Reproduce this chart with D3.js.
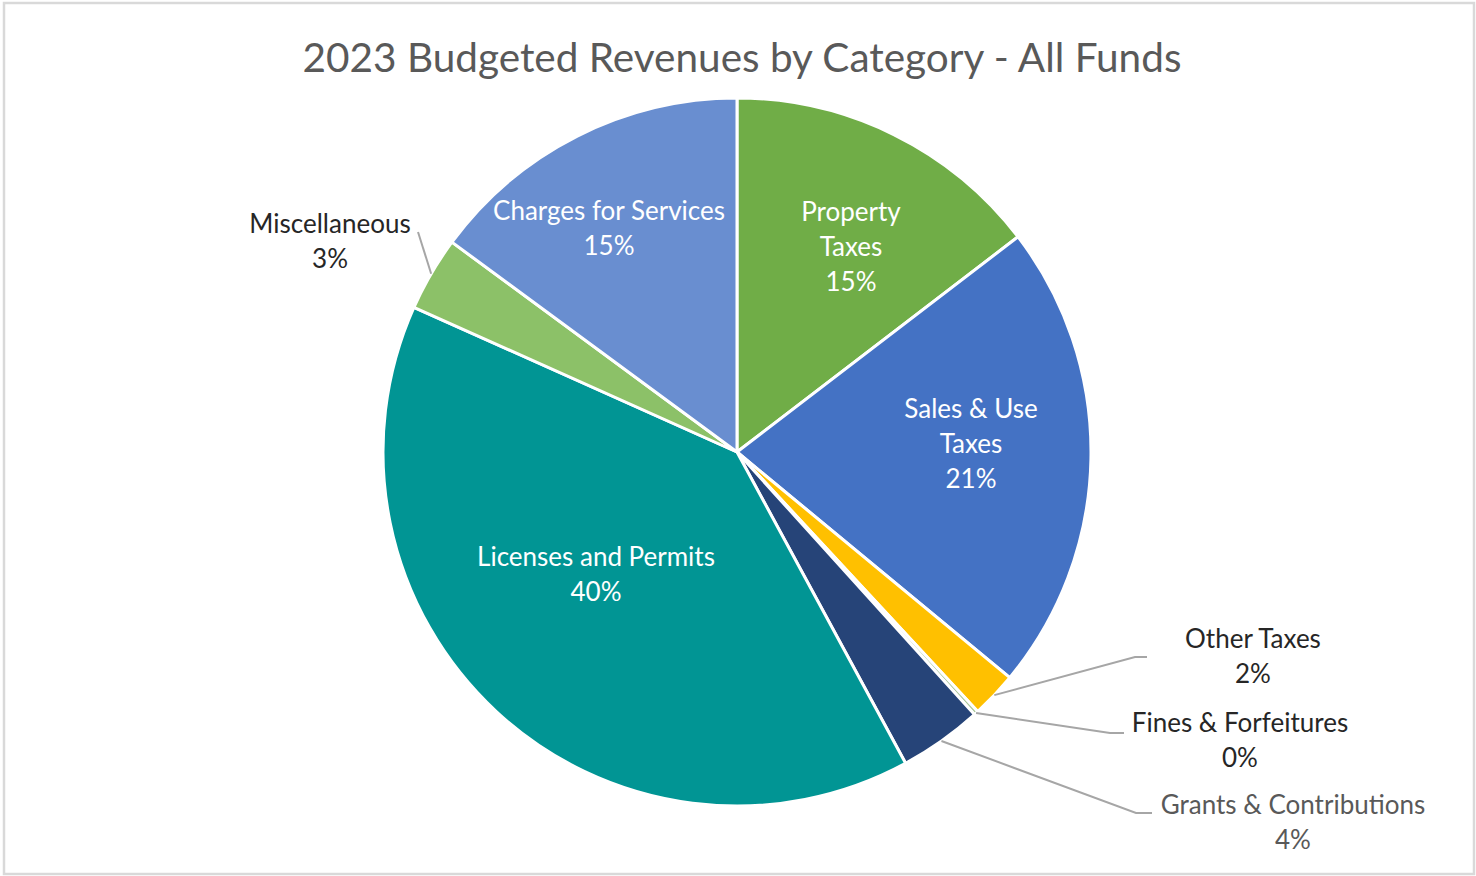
<!DOCTYPE html>
<html>
<head>
<meta charset="utf-8">
<script src="https://cdn.jsdelivr.net/npm/d3@7"></script>
<style>
  html, body { margin: 0; padding: 0; background: #ffffff; }
  svg { display: block; }
  text { font-family: Lato, "Open Sans", sans-serif; }
</style>
</head>
<body>
<svg id="chart" width="1476" height="876"></svg>
<script>
// Revenue categories, clockwise from 12 o'clock
const categories = [
  "Property Taxes",
  "Sales & Use Taxes",
  "Other Taxes",
  "Fines & Forfeitures",
  "Grants & Contributions",
  "Licenses and Permits",
  "Miscellaneous",
  "Charges for Services"
];
// Share of budgeted revenue (percent)
const shares = [14.6, 21.4, 2.1, 0.2, 3.8, 39.6, 3.4, 14.9];
// Label text lines shown above the percentage
const labelLines = [
  ["Property", "Taxes"],
  ["Sales & Use", "Taxes"],
  ["Other Taxes"],
  ["Fines & Forfeitures"],
  ["Grants & Contributions"],
  ["Licenses and Permits"],
  ["Miscellaneous"],
  ["Charges for Services"]
];
const sliceColors = ["#70ad47", "#4472c4", "#ffc000", "#a9c79a", "#264478", "#019594", "#8cc168", "#698ed0"];
const title = "2023 Budgeted Revenues by Category - All Funds";

const svg = d3.select("#chart");
const W = 1476, H = 876;
const cx = 737, cy = 452, R = 354;
const lineGap = 35;
const labelSize = 26;

// frame
svg.append("rect")
  .attr("x", 4).attr("y", 3).attr("width", W - 6).attr("height", H - 5)
  .attr("fill", "#ffffff").attr("stroke", "#d9d9d9").attr("stroke-width", 2.5);

svg.append("text")
  .attr("x", 742).attr("y", 56)
  .attr("text-anchor", "middle").attr("dominant-baseline", "central")
  .attr("fill", "#595959").attr("font-size", 40.5)
  .text(title);

const data = categories.map((c, i) => ({ name: c, value: shares[i], lines: labelLines[i], color: sliceColors[i] }));
const total = d3.sum(shares);
const pct = d3.format(".0%");

const pie = d3.pie().sort(null).value(d => d.value);
const arcs = pie(data);
const arc = d3.arc().innerRadius(0).outerRadius(R);

const g = svg.append("g").attr("transform", `translate(${cx},${cy})`);

g.selectAll("path.slice")
  .data(arcs)
  .join("path")
  .attr("class", "slice")
  .attr("d", arc)
  .attr("fill", d => d.data.color)
  .attr("stroke", "#ffffff")
  .attr("stroke-width", 3)
  .attr("stroke-linejoin", "round");

// label placement: inside labels give block centre relative to pie centre;
// outside labels give first-line centre and the end of the leader line
const inside = {
  "Property Taxes": [114, -206],
  "Sales & Use Taxes": [234, -9],
  "Licenses and Permits": [-141, 121],
  "Charges for Services": [-128, -225]
};
const outside = {
  "Other Taxes": { text: [516, 186], end: [410, 205], elbow: 12 },
  "Fines & Forfeitures": { text: [503, 270], end: [387, 281], elbow: 14 },
  "Grants & Contributions": { text: [556, 352], end: [415, 361], elbow: 16 },
  "Miscellaneous": { text: [-407, -229], end: [-319, -220], elbow: 0 }
};

arcs.forEach(a => {
  const d = a.data;
  const lines = d.lines.concat([pct(d.value / total)]);
  if (inside[d.name]) {
    const [x, y] = inside[d.name];
    const y0 = y - (lines.length - 1) * lineGap / 2;
    const t = g.append("text")
      .attr("text-anchor", "middle").attr("dominant-baseline", "central")
      .attr("fill", "#ffffff").attr("font-size", labelSize);
    lines.forEach((ln, i) => t.append("tspan").attr("x", x).attr("y", y0 + i * lineGap).text(ln));
  } else {
    const o = outside[d.name];
    const mid = (a.startAngle + a.endAngle) / 2;
    const start = [Math.sin(mid) * R, -Math.cos(mid) * R];
    const pts = [start, [o.end[0] - o.elbow, o.end[1]], o.end];
    g.append("path")
      .attr("d", d3.line()(pts))
      .attr("fill", "none").attr("stroke", "#a6a6a6").attr("stroke-width", 2);
    const t = g.append("text")
      .attr("text-anchor", "middle").attr("dominant-baseline", "central")
      .attr("fill", d.name === "Grants & Contributions" ? "#595959" : "#262626")
      .attr("font-size", labelSize);
    lines.forEach((ln, i) => t.append("tspan").attr("x", o.text[0]).attr("y", o.text[1] + i * lineGap).text(ln));
  }
});
</script>
</body>
</html>
